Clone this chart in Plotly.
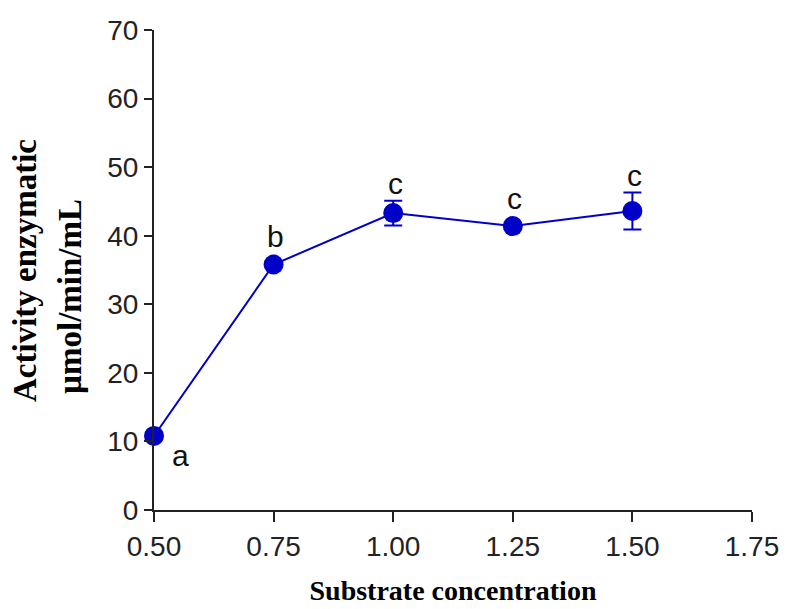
import plotly.graph_objects as go

concentration = [0.50, 0.75, 1.00, 1.25, 1.50]
activity = [10.8, 35.8, 43.3, 41.4, 43.6]
error = [0.0, 0.0, 1.8, 0.0, 2.7]
letters = ["a", "b", "c", "c", "c"]
x_ticks = [0.50, 0.75, 1.00, 1.25, 1.50, 1.75]
x_ticklabels = ["0.50", "0.75", "1.00", "1.25", "1.50", "1.75"]
y_ticks = [0, 10, 20, 30, 40, 50, 60, 70]

BLUE = "#0000C8"
AX = "#222222"

fig = go.Figure()
fig.add_trace(go.Scatter(
    x=concentration, y=activity,
    mode="lines+markers",
    line=dict(color=BLUE, width=2),
    marker=dict(color=BLUE, size=20),
    error_y=dict(type="data", array=error, visible=True, color=BLUE, thickness=2, width=9),
    cliponaxis=False,
    showlegend=False,
))

annotations = []
for xv, yv, ev, lt in zip(concentration, activity, error, letters):
    if lt == "a":
        annotations.append(dict(x=xv, y=yv, xref="x", yref="y", text=lt, showarrow=False,
                                xshift=26, yshift=-20, font=dict(family="Liberation Sans, Arial", size=30, color="#111")))
    else:
        annotations.append(dict(x=xv, y=yv + ev, xref="x", yref="y", text=lt, showarrow=False,
                                xshift=2, yshift=(17 if ev > 0 else 28),
                                font=dict(family="Liberation Sans, Arial", size=30, color="#111")))

# y-axis title (two lines), positioned by pixel centre
W, H = 789, 609
L, R, T, B = 154, 37, 30, 99
pw, ph = W - L - R, H - T - B
ytitle = [("<b>Activity enzymatic</b>", 25, 271), ("<b>µmol/min/mL</b>", 70, 297)]
for txt, px, py in ytitle:
    annotations.append(dict(x=(px - L) / pw, y=(H - B - py) / ph, xref="paper", yref="paper",
                            xanchor="center", yanchor="middle", text=txt, showarrow=False,
                            textangle=-90, font=dict(family="Liberation Serif, Times New Roman", size=33, color="#000")))

fig.update_layout(
    width=W, height=H,
    margin=dict(l=L, r=R, t=T, b=B, autoexpand=False),
    paper_bgcolor="white", plot_bgcolor="white",
    annotations=annotations,
    xaxis=dict(
        range=[0.5, 1.75], tickvals=x_ticks, ticktext=x_ticklabels, automargin=False,
        showgrid=False, zeroline=False, showline=True, linecolor=AX, linewidth=2,
        ticks="outside", ticklen=10, tickwidth=2, tickcolor=AX,
        tickfont=dict(family="Liberation Sans, Arial", size=28, color="#222"),
        title=dict(text="<b>Substrate concentration</b>", standoff=20,
                   font=dict(family="Liberation Serif, Times New Roman", size=28, color="#000")),
    ),
    yaxis=dict(
        range=[0, 70], tickvals=y_ticks, automargin=False,
        showgrid=False, zeroline=False, showline=True, linecolor=AX, linewidth=2,
        ticks="outside", ticklen=8, tickwidth=2, tickcolor=AX,
        tickfont=dict(family="Liberation Sans, Arial", size=28, color="#222"),
    ),
)

fig.write_html("out.html")
